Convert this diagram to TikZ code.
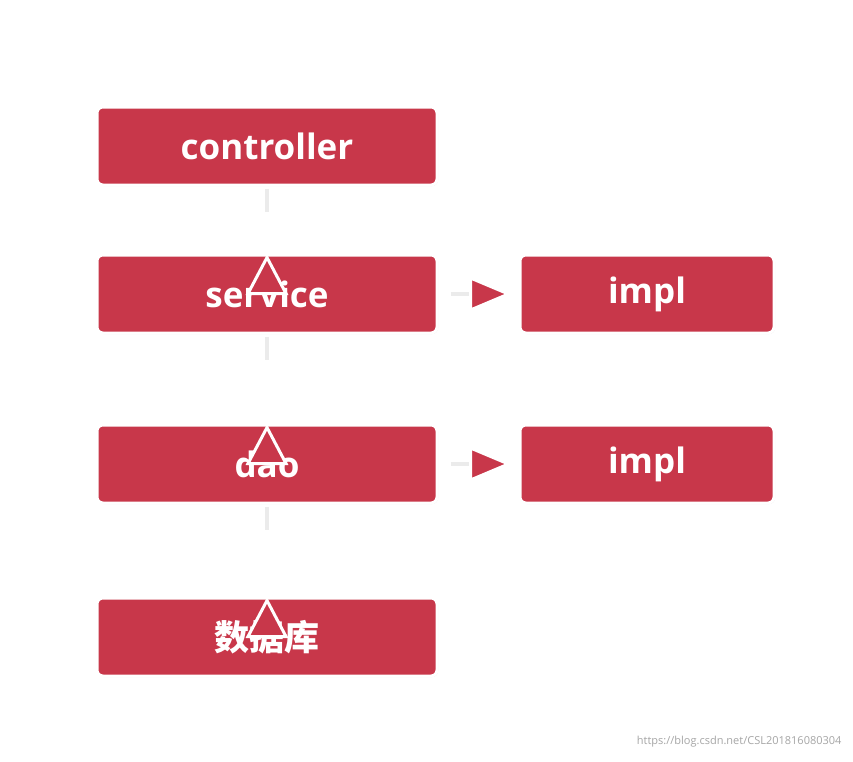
\documentclass[tikz,border=0pt]{standalone}
\usepackage{fontspec}
\usetikzlibrary{shadows}
\setmainfont{Open Sans}
\newfontfamily\cjk{Noto Sans CJK SC}
\definecolor{boxred}{HTML}{C8374A}
\begin{document}
\begin{tikzpicture}[x=1pt,y=-1pt,
  box/.style={draw=white,line width=3pt,fill=boxred,rounded corners=6pt,minimum height=78pt,
    text=white,font=\bfseries\fontsize{35}{40}\selectfont,inner sep=0pt,
    drop shadow={shadow xshift=1pt,shadow yshift=-1pt,opacity=0.25}},
  tri/.style={fill=boxred,draw=white,line width=3pt,line join=miter},
  stub/.style={draw=black!8,line width=4pt}]
\useasboundingbox (0,0) rectangle (853,761);
\fill[white] (0,0) rectangle (853,761);
\node[box,minimum width=340pt] (c) at (267,146) {controller};
\node[box,minimum width=340pt] (s) at (267,294) {service};
\node[box,minimum width=340pt] (d) at (267,464) {dao};
\node[box,minimum width=340pt] (db) at (267,637) {\cjk\bfseries 数据库};
\node[box,minimum width=254pt] (i1) at (647,294) {impl};
\node[box,minimum width=254pt] (i2) at (647,464) {impl};
% down arrows
\foreach \a/\b in {c/s,s/d,d/db}{
  \path (\a.south) coordinate (p) (\b.north) coordinate (q);
  \draw[stub] ([yshift=-2pt]p) -- ([yshift=-25pt]p);
  \draw[tri] ([xshift=-19pt,yshift=-40pt]q) -- ([xshift=19pt,yshift=-40pt]q) -- ([yshift=-4pt]q) -- cycle;
}
% right arrows
\foreach \a/\b in {s/i1,d/i2}{
  \path (\a.east) coordinate (p) (\b.west) coordinate (q);
  \draw[stub] ([xshift=12pt]p) -- ([xshift=34pt]p);
  \draw[tri] ([xshift=-48pt,yshift=-16pt]q) -- ([xshift=-48pt,yshift=16pt]q) -- ([xshift=-10pt]q) -- cycle;
}
\node[text=black!35,font=\fontsize{11}{13}\selectfont,anchor=east] (wm) at (845,742) {https://blog.csdn.net/CSL201816080304};
\end{tikzpicture}
\end{document}
